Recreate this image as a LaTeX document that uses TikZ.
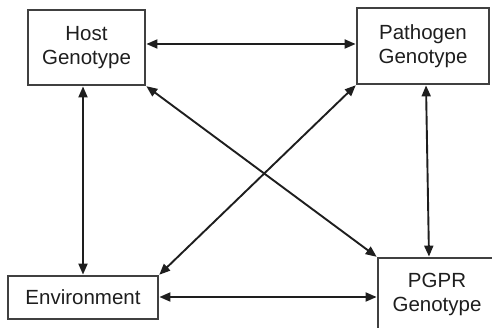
\documentclass[tikz,border=0pt]{standalone}
\usepackage{fontspec}
\setmainfont{Liberation Sans}
\usetikzlibrary{arrows.meta}
\definecolor{ink}{HTML}{1E1E1E}
\begin{document}
\begin{tikzpicture}[x=1pt,y=-1pt,
  gbox/.style={draw=ink!85, line width=1.8pt, rectangle, inner sep=0pt, align=center,
    font=\fontsize{20.5pt}{24pt}\selectfont, text=ink},
  gtext/.style={inner sep=0pt, align=center, font=\fontsize{20.5pt}{24pt}\selectfont, text=ink},
  arr/.style={draw=ink, line width=1.9pt, {Triangle[length=11pt,width=9pt]}-{Triangle[length=11pt,width=9pt]}, shorten <=0.5pt, shorten >=0.5pt}]
\useasboundingbox (0,0) rectangle (492,328);
\clip (0,0) rectangle (492,328);
\node[gbox, minimum width=117pt, minimum height=75pt] (host) at (86.5,47.5) {Host\\Genotype};
\node[gbox, minimum width=132pt, minimum height=76pt] (path) at (423,46) {Pathogen\\Genotype};
\node[gbox, minimum width=150pt, minimum height=43pt] (env) at (83,297.5) {Environment};
\node[gbox, minimum width=180pt, minimum height=73pt] (pgpr) at (468,294.5) {};
\node[gtext] (pgprtext) at (437,294.5) {PGPR\\Genotype};
\draw[arr] (host.east |- 0,44) -- (path.west |- 0,44);
\draw[arr] (host.south -| 83,0) -- (env.north -| 83,0);
\draw[arr] (path.south -| 426,0) -- (pgpr.north -| 429,0);
\draw[arr] (env.east |- 0,297) -- (pgpr.west |- 0,297);
\draw[arr] (host.south east) -- (pgpr.north west);
\draw[arr] (path.south west) -- (env.north east);
\end{tikzpicture}
\end{document}
